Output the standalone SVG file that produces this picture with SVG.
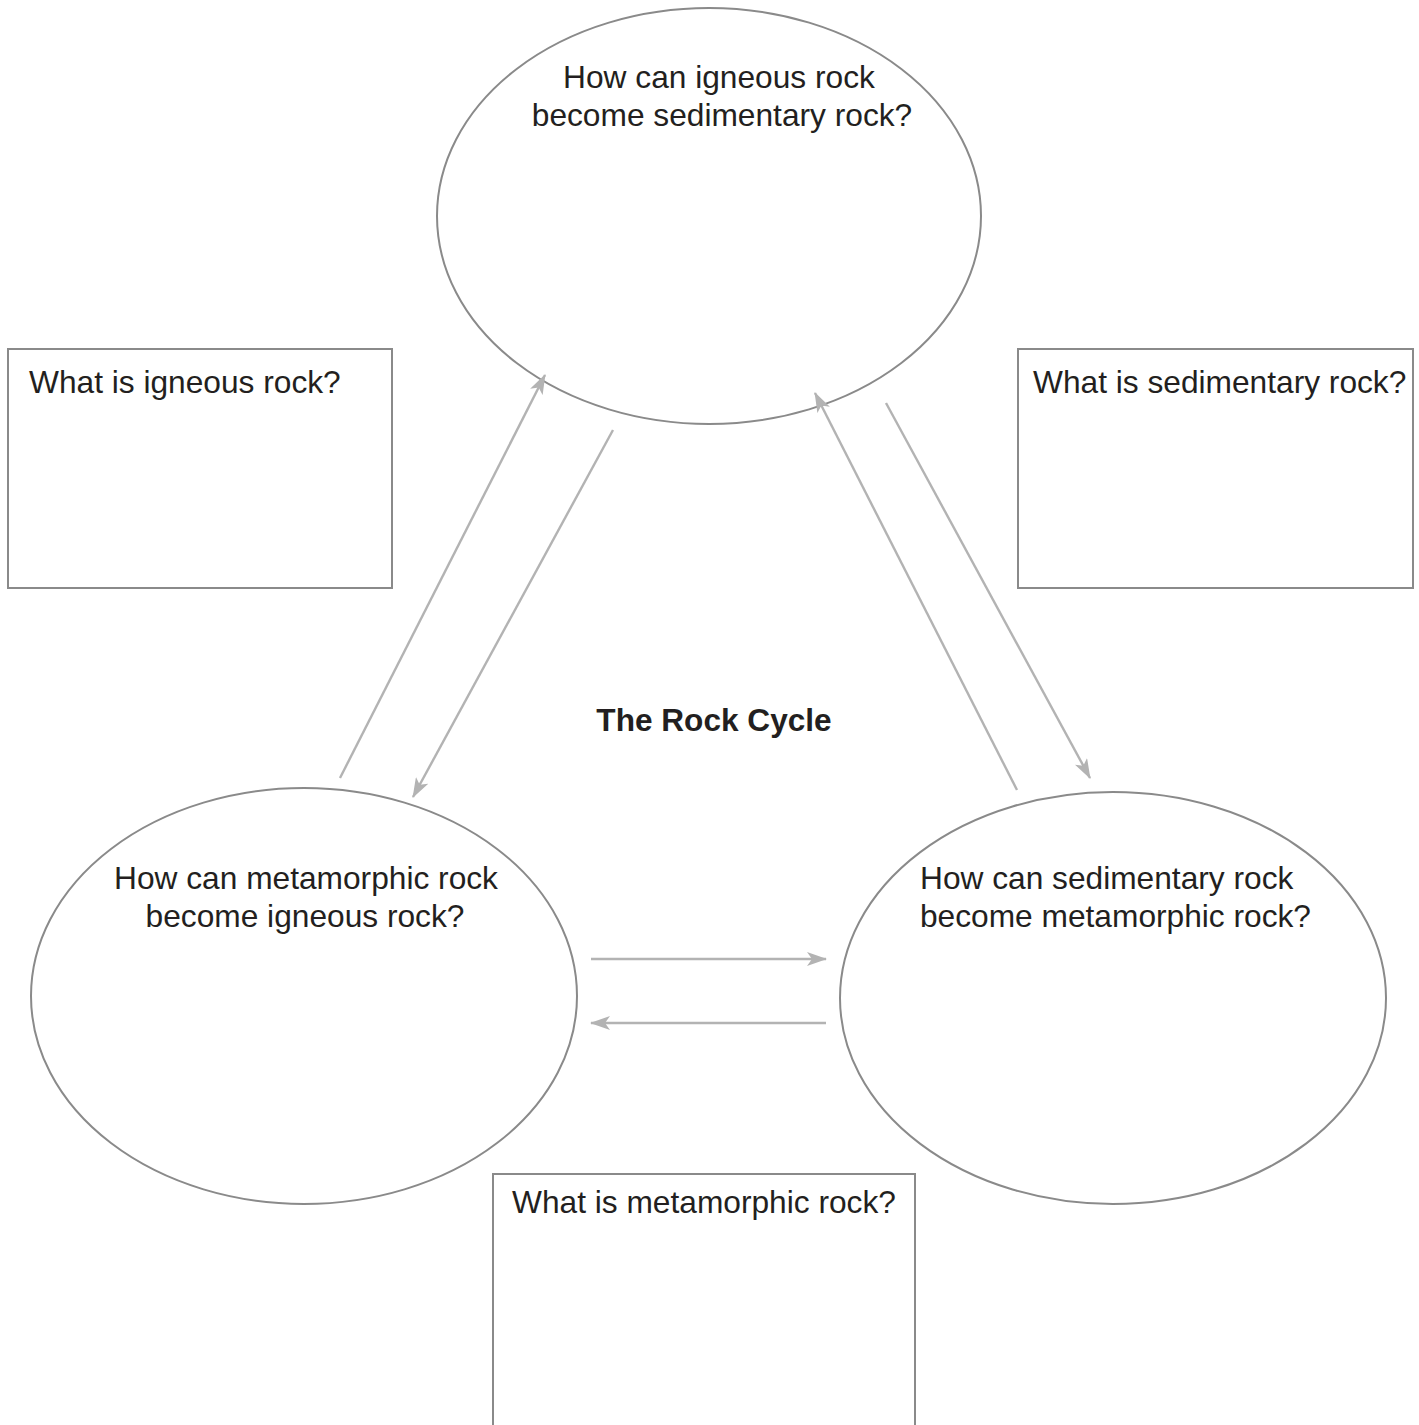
<svg xmlns="http://www.w3.org/2000/svg" width="1419" height="1425" viewBox="0 0 1419 1425">
<defs>
<style>
.node{fill:#fff;stroke:#8a8a8a;stroke-width:2}
.lbl{font-family:"Liberation Sans",Arial,sans-serif;font-size:31.7px;fill:#231f20}
.title{font-family:"Liberation Sans",Arial,sans-serif;font-size:31.6px;font-weight:bold;fill:#231f20}
.conn{stroke:#b3b3b3;stroke-width:2.4;fill:none;marker-end:url(#ah)}
</style>
<marker id="ah" viewBox="0 0 20 14" refX="19" refY="7" markerWidth="20" markerHeight="14" markerUnits="userSpaceOnUse" orient="auto">
<path d="M0,0 L20,7 L0,14 L5,7 Z" fill="#b3b3b3"/>
</marker>
</defs>
<rect width="1419" height="1425" fill="#fff"/>
<g id="igneous-to-sedimentary">
<ellipse class="node" cx="709" cy="216" rx="272" ry="208"/>
<text class="lbl" text-anchor="middle"><tspan x="719" y="88">How can igneous rock</tspan><tspan x="722" y="126">become sedimentary rock?</tspan></text>
</g>
<g id="metamorphic-to-igneous">
<ellipse class="node" cx="304" cy="996" rx="273" ry="208"/>
<text class="lbl" text-anchor="middle"><tspan x="306" y="889">How can metamorphic rock</tspan><tspan x="305" y="927">become igneous rock?</tspan></text>
</g>
<g id="sedimentary-to-metamorphic">
<ellipse class="node" cx="1113" cy="998" rx="273" ry="206"/>
<text class="lbl"><tspan x="920" y="889">How can sedimentary rock</tspan><tspan x="920" y="927">become metamorphic rock?</tspan></text>
</g>
<g id="igneous">
<rect class="node" x="8" y="349" width="384" height="239"/>
<text class="lbl" x="29" y="393">What is igneous rock?</text>
</g>
<g id="sedimentary">
<rect class="node" x="1018" y="349" width="395" height="239"/>
<text class="lbl" x="1033" y="393">What is sedimentary rock?</text>
</g>
<g id="metamorphic">
<rect class="node" x="493" y="1174" width="422" height="260"/>
<text class="lbl" x="512" y="1213">What is metamorphic rock?</text>
</g>
<g id="title">
<text class="title" x="714" y="731" text-anchor="middle">The Rock Cycle</text>
</g>
<g id="connectors">
<line class="conn" x1="340" y1="778" x2="545" y2="375"/>
<line class="conn" x1="613" y1="430" x2="413" y2="797"/>
<line class="conn" x1="1017" y1="790" x2="815" y2="393"/>
<line class="conn" x1="886" y1="403" x2="1090" y2="778"/>
<line class="conn" x1="591" y1="959" x2="826" y2="959"/>
<line class="conn" x1="826" y1="1023" x2="591" y2="1023"/>
</g>
</svg>
